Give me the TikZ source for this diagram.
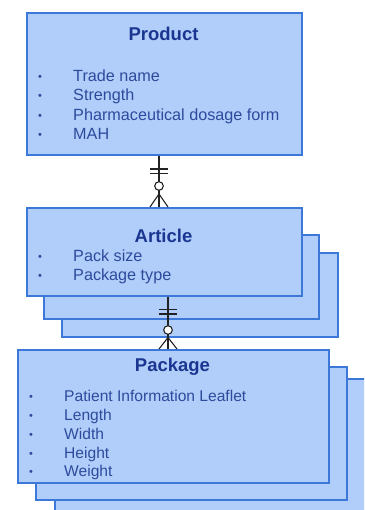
\documentclass[tikz,border=0pt]{standalone}
\usepackage{fontspec}
\setmainfont{Liberation Sans}
\definecolor{boxfill}{HTML}{B1CDFA}
\definecolor{boxline}{HTML}{3C78D8}
\definecolor{titlecol}{HTML}{1A3690}
\definecolor{itemcol}{HTML}{2D4B9C}
\definecolor{linkcol}{HTML}{222222}
\tikzset{
  ent/.style={draw=boxline, fill=boxfill, line width=1.6pt, rectangle, inner sep=0pt, anchor=north west},
  ttl/.style={font=\fontsize{18.5}{21}\selectfont\bfseries, text=titlecol, anchor=base, inner sep=0pt},
  itm/.style={font=\fontsize{16.2}{19}\selectfont, text=itemcol, anchor=base west, inner sep=0pt},
  itmk/.style={font=\fontsize{15.6}{19}\selectfont, text=itemcol, anchor=base west, inner sep=0pt},
  bul/.style={font=\fontsize{11}{12}\selectfont, text=itemcol, anchor=base, inner sep=0pt},
  link/.style={draw=linkcol, line width=1.1pt},
}
\begin{document}
\begin{tikzpicture}[x=1pt,y=-1pt]
\useasboundingbox (0,0) rectangle (364,510);
\clip (0,0) rectangle (364,510);
% Product
\node[ent, minimum width=275pt, minimum height=142pt] (prod) at (26,12) {};
\node[ttl] (prodt) at (163.5,41) {Product};
\node[bul] (pb1) at (40,81) {•}; \node[itm] (pi1) at (73,82) {Trade name};
\node[bul] (pb2) at (40,100) {•}; \node[itm] (pi2) at (73,101) {Strength};
\node[bul] (pb3) at (40,119.5) {•}; \node[itm] (pi3) at (73,120.5) {Pharmaceutical dosage form};
\node[bul] (pb4) at (40,139) {•}; \node[itm] (pi4) at (73,140) {MAH};
% Article stack
\node[ent, minimum width=276pt, minimum height=84pt] (art3) at (61,252) {};
\node[ent, minimum width=275pt, minimum height=84pt] (art2) at (43,234) {};
\node[ent, minimum width=275pt, minimum height=88pt] (art) at (26,207) {};
\node[ttl] (artt) at (163.5,242) {Article};
\node[bul] (ab1) at (40,260.5) {•}; \node[itm] (ai1) at (73,261.5) {Pack size};
\node[bul] (ab2) at (40,279) {•}; \node[itm] (ai2) at (73,280) {Package type};
% Package stack
\node[ent, minimum width=330pt, minimum height=150pt] (pkg3) at (54,378) {};
\node[ent, minimum width=311pt, minimum height=133pt] (pkg2) at (35,366) {};
\node[ent, minimum width=311pt, minimum height=133pt] (pkg) at (17,349) {};
\node[ttl] (pkgt) at (172.5,371) {Package};
\node[bul] (kb1) at (31,400) {•}; \node[itmk] (ki1) at (64,401) {Patient Information Leaflet};
\node[bul] (kb2) at (31,419.5) {•}; \node[itmk] (ki2) at (64,420.5) {Length};
\node[bul] (kb3) at (31,438) {•}; \node[itmk] (ki3) at (64,439) {Width};
\node[bul] (kb4) at (31,457) {•}; \node[itmk] (ki4) at (64,458) {Height};
\node[bul] (kb5) at (31,475.5) {•}; \node[itmk] (ki5) at (64,476.5) {Weight};
% Connector Product - Article
\coordinate (c1) at (159,0);
\coordinate (c1o) at (159,186);
\coordinate (c1f) at (159,194);
\draw[link] (prod.south -| c1) -- (art.north -| c1);
\draw[link] (150,169) -- (168,169);
\draw[link] (150,173.5) -- (168,173.5);
\draw[link] (c1f) -- (art.north -| 150,0);
\draw[link] (c1f) -- (art.north -| 168,0);
\draw[link, fill=white] (c1o) circle (4.3);
% Connector Article - Package
\coordinate (c2) at (168,0);
\coordinate (c2o) at (168,330);
\coordinate (c2f) at (168,337.5);
\draw[link] (art.south -| c2) -- (pkg.north -| c2);
\draw[link] (159,309.5) -- (177,309.5);
\draw[link] (159,314) -- (177,314);
\draw[link] (c2f) -- (pkg.north -| 159,0);
\draw[link] (c2f) -- (pkg.north -| 177,0);
\draw[link, fill=white] (c2o) circle (4.3);
\end{tikzpicture}
\end{document}
